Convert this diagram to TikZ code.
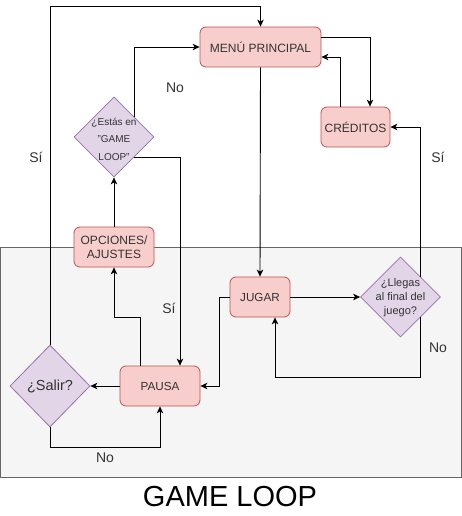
\documentclass[tikz,border=0pt]{standalone}
\usepackage{fontspec}
\setmainfont{Liberation Sans}
\usetikzlibrary{shapes.geometric,arrows.meta,calc}
\definecolor{redfill}{HTML}{F8CECC}
\definecolor{redline}{HTML}{B85450}
\definecolor{purfill}{HTML}{E1D5E7}
\definecolor{purline}{HTML}{9673A6}
\definecolor{grayfill}{HTML}{F5F5F5}
\definecolor{grayline}{HTML}{666666}
\definecolor{txtgray}{HTML}{333333}
\tikzset{
  box/.style={draw=redline,fill=redfill,rounded corners=6pt,line width=0.8pt,
    inner sep=0pt,text=txtgray,align=center},
  dia/.style={draw=purline,fill=purfill,diamond,line width=0.8pt,inner sep=0pt,
    minimum width=80pt,minimum height=80pt},
  dtext/.style={text=txtgray,align=center,inner sep=0pt},
  arr/.style={draw=black,line width=0.9pt,-{Stealth[length=7pt,width=6.5pt,inset=2pt]}},
  lbl/.style={text=txtgray,font=\fontsize{14}{16}\selectfont,inner sep=0pt},
}
\begin{document}
\begin{tikzpicture}[x=1pt,y=-1pt]
\useasboundingbox (0,0) rectangle (462,516);
% container
\path[draw=grayline,fill=grayfill,line width=0.9pt] (0.5,247) rectangle (461,477);
\node[inner sep=0pt,text=black,font=\fontsize{29}{32}\selectfont] (gl) at (230,497) {GAME LOOP};

% nodes
\node[box,minimum width=121pt,minimum height=40pt,font=\fontsize{12}{14}\selectfont] (menu) at (260.5,47) {MENÚ PRINCIPAL};
\node[box,minimum width=69pt,minimum height=40pt,font=\fontsize{12}{14}\selectfont] (cred) at (355.5,127) {CRÉDITOS};
\node[dia] (d1) at (114,137) {};
\node[dtext,font=\fontsize{10}{17.5}\selectfont] (d1t) at (114,139) {¿Estás en\\"GAME\\LOOP"};
\node[box,minimum width=80pt,minimum height=40pt,font=\fontsize{12}{14}\selectfont] (opc) at (114,247) {OPCIONES/\\AJUSTES};
\node[box,minimum width=60pt,minimum height=40pt,font=\fontsize{11.7}{14}\selectfont] (jugar) at (260,297) {JUGAR};
\node[dia] (d2) at (400.5,297) {};
\node[dtext,font=\fontsize{11}{14}\selectfont] (d2t) at (400.5,298) {¿Llegas\\al final del\\juego?};
\node[box,minimum width=80pt,minimum height=40pt,font=\fontsize{11.7}{14}\selectfont] (pausa) at (160,386) {PAUSA};
\node[dia,minimum height=82pt] (salir) at (50,386) {};
\node[dtext,font=\fontsize{14.5}{16}\selectfont] (salirt) at (50,386) {¿Salir?};

% connectors
\draw[arr] (salir.north) |- ([yshift=20pt]menu.north) -- (menu.north);
\draw[arr] (d1.north east) |- (menu.west);
\draw[arr] (d1.south east) -| ([xshift=20pt]pausa.north);
\draw[arr] ([yshift=10pt]menu.east) -| ([xshift=14.5pt]cred.north);
\draw[arr] ([xshift=-15.5pt]cred.north) |- ([yshift=-10pt]menu.east);
\draw[arr] (menu.south) -- (jugar.north);
\draw[arr] (d2.north east) |- (cred.east);
\draw[arr] (jugar.east) -- (d2.west);
\draw[arr] (d2.south east) |- ([xshift=15pt,yshift=-60pt]jugar.south) -- ([xshift=15pt]jugar.south);
\draw[arr] (jugar.west) -- ++(-10,0) |- (pausa.east);
\draw[arr] (pausa.west) -- (salir.east);
\draw[arr] (salir.south) |- ([yshift=-41pt]pausa.south) -- (pausa.south);
\draw[arr] ([xshift=-20pt]pausa.north) |- ([yshift=-50pt]opc.south) -- (opc.south);
\draw[arr] (opc.north) -- (d1.south);

% labels
\node[lbl] (l1) at (175,88) {No};
\node[lbl] (l2) at (36,157) {Sí};
\node[lbl] (l3) at (438,157) {Sí};
\node[lbl] (l4) at (169,308) {Sí};
\node[lbl] (l5) at (438,348) {No};
\node[lbl] (l6) at (105,458) {No};
\end{tikzpicture}
\end{document}
